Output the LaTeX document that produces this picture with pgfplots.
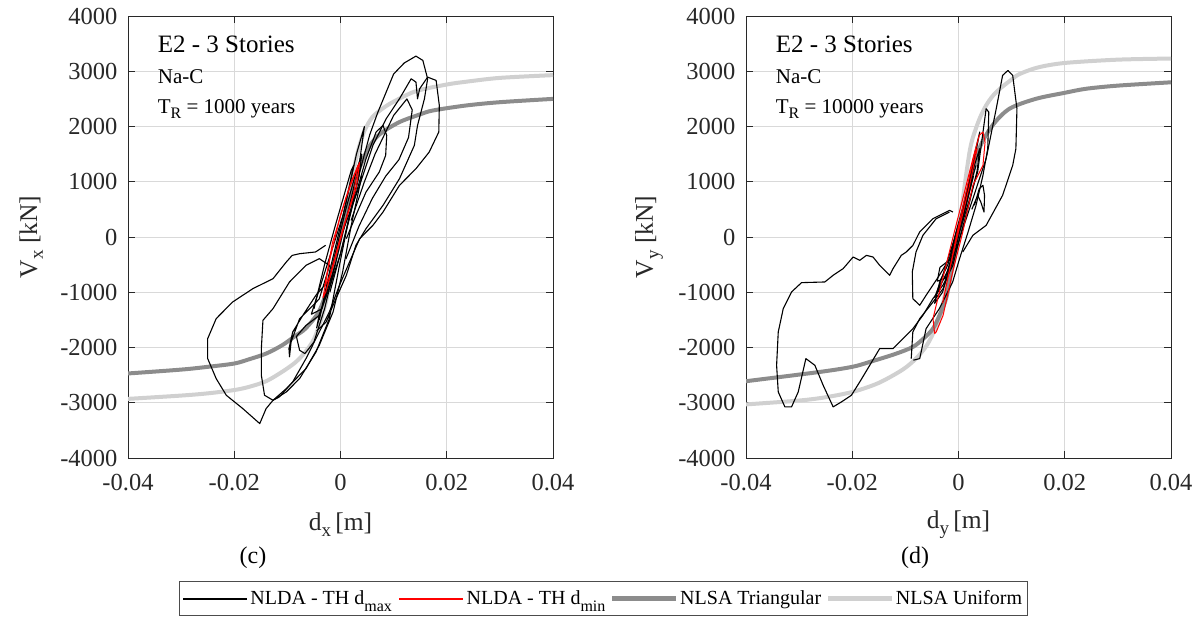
\documentclass[border=0pt]{standalone}
\usepackage{fontspec}
\setmainfont{Liberation Serif}
\usepackage{pgfplots}
\pgfplotsset{compat=1.18}
\newcommand\sub[2][16]{\raisebox{-0.5ex}{\fontsize{#1}{#1}\selectfont #2}}
\newcommand\lsub[1]{\raisebox{-0.7ex}{\fontsize{16}{16}\selectfont #1}}
\definecolor{tri}{RGB}{140,140,140}
\definecolor{uni}{RGB}{208,208,208}
\definecolor{axc}{RGB}{40,40,40}
\definecolor{lred}{RGB}{255,0,0}
\pgfplotsset{
  panel/.style={
    scale only axis, width=425pt, height=442pt,
    xmin=-0.04, xmax=0.04, ymin=-4000, ymax=4000,
    xtick={-0.04,-0.02,0,0.02,0.04},
    ytick={-4000,-3000,...,4000},
    scaled ticks=false,
    /pgf/number format/assume math mode=true,
    /pgf/number format/1000 sep={},
    xticklabel style={/pgf/number format/fixed,/pgf/number format/precision=2, yshift=-13pt},
    yticklabel style={xshift=-7pt},
    ticklabel style={font=\fontsize{24.5}{28}\selectfont, text=axc},
    tick align=inside, major tick length=7pt,
    axis line style={draw=axc, line width=1pt},
    tick style={draw=axc, line width=0.8pt},
    grid=major, grid style={draw=black!15, line width=0.8pt},
    label style={font=\fontsize{25.5}{30}\selectfont, text=axc},
    xlabel style={at={(axis description cs:0.5,-0.15)}, anchor=center},
    ylabel style={at={(axis description cs:-0.228,0.5)}, anchor=center},
    clip=true,
  },
  blk/.style={draw=black, line width=1.1pt, line join=round},
  rd/.style={draw=lred, line width=1pt, line join=round},
  trl/.style={draw=tri, line width=4pt, smooth},
  unl/.style={draw=uni, line width=4pt, smooth},
}
\begin{document}
\begin{tikzpicture}[x=1pt,y=1pt]
\path[use as bounding box] (0,0) rectangle (1198,619);
% ---------------- left panel (c)
\begin{axis}[panel, at={(128pt,161pt)}, anchor=south west,
  xlabel={d\sub[19]{x}\,[m]}, ylabel={V\sub[19]{x} [kN]},
  legend columns=4,
  legend cell align=left,
  legend style={at={(1.1185,-0.318)}, anchor=center, draw=black!70, line width=0.8pt, fill=white,
    font=\fontsize{20}{24}\selectfont, inner xsep=3pt, inner ysep=4pt,
    /tikz/every odd column/.append style={column sep=2pt},
    /tikz/every even column/.append style={column sep=5pt},
    nodes={inner ysep=5pt}},
]
\addplot[unl, forget plot] coordinates {(-0.04,-2930) (-0.03,-2870) (-0.025,-2830) (-0.02,-2770) (-0.0172,-2712) (-0.014,-2610) (-0.011,-2441) (-0.0085,-2270) (-0.0066,-2079) (-0.005,-1850) (-0.0038,-1537) (-0.0028,-1200) (-0.0019,-814) (-0.001,-420) (0,0) (0.0008,400) (0.0016,813) (0.0025,1220) (0.0034,1597) (0.0045,1920) (0.006,2170) (0.008,2330) (0.01,2450) (0.0142,2640) (0.02,2760) (0.0236,2810) (0.03,2880) (0.04,2930)};
\addplot[trl, forget plot] coordinates {(-0.04,-2470) (-0.03,-2400) (-0.025,-2350) (-0.02,-2290) (-0.0172,-2213) (-0.014,-2110) (-0.011,-1960) (-0.0085,-1790) (-0.0066,-1658) (-0.0041,-1356) (-0.0025,-950) (-0.0012,-480) (0,0) (0.0012,480) (0.0025,950) (0.004,1350) (0.0055,1650) (0.0075,1870) (0.0111,2080) (0.015,2220) (0.0174,2290) (0.0236,2380) (0.03,2440) (0.04,2500)};
\addplot[blk, forget plot] coordinates {(-0.0028,-150) (-0.0047,-271) (-0.0077,-302) (-0.0091,-333) (-0.0102,-452) (-0.0127,-754) (-0.0165,-935) (-0.0203,-1176) (-0.0234,-1477) (-0.0250,-1839) (-0.0250,-2201) (-0.0234,-2563) (-0.0215,-2864) (-0.0184,-3105) (-0.0152,-3377) (-0.0140,-3105) (-0.0127,-2955) (-0.0102,-2804) (-0.0077,-2563) (-0.0046,-2080) (-0.0021,-1477) (-0.0002,-513) (0.0017,392) (0.0036,1176) (0.0055,1850) (0.0070,2250) (0.0085,2600) (0.0100,2950) (0.0120,3150) (0.0142,3274) (0.0155,3196) (0.0164,2864) (0.0158,2502) (0.0145,2020) (0.0139,1658) (0.0111,1055) (0.0080,573) (0.0048,151) (0.0029,-151) (0.0011,-693) (-0.0014,-1236) (-0.0027,-1538) (-0.0045,-1700)};
\addplot[blk, forget plot] coordinates {(0.0004,90) (0.0036,935) (0.0061,1658) (0.0086,2141) (0.0111,2502) (0.0133,2864) (0.0142,2804) (0.0145,2502) (0.0149,2683) (0.0164,2894) (0.0180,2834) (0.0186,2382) (0.0185,1900) (0.0167,1538) (0.0142,1236) (0.0111,935) (0.0080,452) (0.0061,211) (0.0036,-30) (0.0017,-452) (-0.0002,-874) (-0.0021,-1357) (-0.0040,-1719) (-0.0065,-2201) (-0.0090,-2623) (-0.0115,-2894) (-0.0127,-2955)};
\addplot[blk, forget plot] coordinates {(-0.0021,-513) (-0.0040,-392) (-0.0065,-513) (-0.0096,-814) (-0.0127,-1296) (-0.0146,-1508) (-0.0149,-2020) (-0.0149,-2502) (-0.0143,-2864) (-0.0127,-2955) (-0.0102,-2744) (-0.0065,-2382) (-0.0040,-1960) (-0.0014,-1357) (0.0004,-633) (0.0020,200) (0.0040,1100)};
\addplot[blk, forget plot] coordinates {(0.0011,-30) (0.0029,392) (0.0048,814) (0.0073,1176) (0.0085,1477) (0.0087,1839) (0.0080,2020) (0.0067,1900) (0.0048,1417) (0.0023,573) (0.0000,-300) (-0.0020,-1000)};
\addplot[blk, forget plot] coordinates {(0.0020,300) (0.0045,1000) (0.0065,1500) (0.0080,1800) (0.0100,2200) (0.0125,2500) (0.0135,2300) (0.0128,1800) (0.0110,1400) (0.0085,1100) (0.0060,700) (0.0035,200) (0.0010,-400)};
\addplot[blk, forget plot] coordinates {(-0.0014,-700) (-0.0046,-1050) (-0.0071,-1420) (-0.0090,-1720) (-0.0097,-2020) (-0.0096,-2170) (-0.0093,-1900) (-0.0077,-1480) (-0.0052,-1240) (-0.0040,-1120) (-0.0020,-500)};
\addplot[blk, forget plot] coordinates {(-0.0040,-1420) (-0.0065,-1600) (-0.0083,-1800) (-0.0077,-2050) (-0.0067,-2110) (-0.0050,-1900) (-0.0030,-1300) (-0.0010,-500)};
\addplot[blk, forget plot] coordinates {(-0.0045,-1650) (-0.003,-1100) (-0.001,-300) (0.001,500) (0.003,1200) (0.004,1500) (0.0035,1100) (0.002,500) (0,-300) (-0.002,-900) (-0.004,-1400) (-0.0045,-1650)};
\addplot[blk, forget plot] coordinates {(-0.005,-1300) (-0.003,-500) (-0.001,200) (0.002,1200) (0.0025,1300) (0.001,600) (-0.002,-600) (-0.004,-1500)};
\addplot[blk, forget plot] coordinates {(-0.0055,-1400) (-0.0035,-800) (0.0005,400) (0.003,1500) (0.0045,2000) (0.0035,1300) (0.0015,500) (-0.001,-500) (-0.0035,-1300) (-0.0055,-1400)};
\addplot[rd, forget plot] coordinates {(-0.0033,-1100) (-0.002,-400) (0,400) (0.002,1000) (0.0036,1350) (0.003,900) (0.001,300) (-0.001,-400) (-0.0028,-1000) (-0.0033,-1100)};
\addplot[rd, forget plot] coordinates {(-0.003,-900) (-0.0015,-100) (0.001,700) (0.0033,1300) (0.0025,800) (0,0) (-0.002,-700) (-0.003,-900)};
\addlegendimage{legend image code/.code={\fill[black] (0pt,-0.55pt) rectangle (63pt,0.55pt);}}
\addlegendentry{NLDA - TH d\lsub{max}}
\addlegendimage{legend image code/.code={\fill[lred] (0pt,-0.55pt) rectangle (63pt,0.55pt);}}
\addlegendentry{NLDA - TH d\lsub{min}}
\addlegendimage{legend image code/.code={\fill[tri] (0pt,-2pt) rectangle (63pt,2pt);}}
\addlegendentry{NLSA Triangular}
\addlegendimage{legend image code/.code={\fill[uni] (0pt,-2pt) rectangle (63pt,2pt);}}
\addlegendentry{NLSA Uniform}
\node[anchor=west, font=\fontsize{25}{28}\selectfont] at (axis description cs:0.062,0.935) {E2 - 3 Stories};
\node[anchor=west, font=\fontsize{21}{24}\selectfont] at (axis description cs:0.062,0.862) {Na-C};
\node[anchor=west, font=\fontsize{21}{24}\selectfont] at (axis description cs:0.062,0.79) {T\sub{R} = 1000 years};
\end{axis}
% ---------------- right panel (d)
\begin{axis}[panel, at={(746pt,161pt)}, anchor=south west,
  xlabel={d\sub[19]{y}\,[m]}, ylabel={V\sub[19]{y} [kN]}]
\addplot[unl] coordinates {(-0.04,-3030) (-0.03,-2960) (-0.025,-2900) (-0.0198,-2800) (-0.015,-2640) (-0.0105,-2400) (-0.008,-2200) (-0.0061,-1980) (-0.0048,-1750) (-0.0036,-1477) (-0.0028,-1150) (-0.002,-814) (-0.0011,-350) (0,200) (0.0007,600) (0.0014,1100) (0.0021,1550) (0.0027,1800) (0.004,2150) (0.0052,2382) (0.0065,2560) (0.008,2700) (0.01,2850) (0.0115,2950) (0.015,3070) (0.02,3150) (0.03,3210) (0.04,3230)};
\addplot[trl] coordinates {(-0.04,-2610) (-0.0261,-2442) (-0.02,-2350) (-0.0167,-2261) (-0.012,-2120) (-0.0086,-1990) (-0.0065,-1830) (-0.0048,-1658) (-0.0035,-1400) (-0.0023,-1100) (-0.0011,-513) (0.0002,90) (0.0012,580) (0.0021,935) (0.0039,1598) (0.0064,2020) (0.0096,2322) (0.0146,2502) (0.02,2610) (0.024,2683) (0.03,2740) (0.04,2800)};
\addplot[blk] coordinates {(-0.00106,452) (-0.00169,482) (-0.00482,332) (-0.00732,90) (-0.00858,-151) (-0.00983,-271) (-0.01077,-332) (-0.01233,-573) (-0.01296,-693) (-0.01484,-513) (-0.01609,-362) (-0.01734,-332) (-0.01859,-422) (-0.01984,-362) (-0.02172,-573) (-0.0236,-693) (-0.02517,-814) (-0.02955,-826) (-0.03143,-995) (-0.03299,-1296) (-0.03393,-1719) (-0.03424,-2322) (-0.03393,-2804) (-0.03268,-3075) (-0.03143,-3075) (-0.03017,-2804) (-0.02873,-2201) (-0.02704,-2322) (-0.02548,-2683) (-0.0236,-3075) (-0.02204,-2985) (-0.02016,-2864) (-0.01859,-2623) (-0.01671,-2322) (-0.01484,-2020) (-0.01233,-2020) (-0.01045,-1839) (-0.00858,-1658) (-0.0067,-1417) (-0.00482,-1116) (-0.00294,-874) (-0.00106,-513) (0.0002,-30) (0.0027,693) (0.0052,1417) (0.0071,2322) (0.0083,2925) (0.0093,3015) (0.0102,2925) (0.0110,2322) (0.0108,1598) (0.0102,1296) (0.0083,754) (0.0052,211) (0.0027,30) (0.0008,-271)};
\addplot[blk] coordinates {(-0.0017,452) (-0.0042,332) (-0.0067,30) (-0.0080,-271) (-0.0087,-633) (-0.0086,-1116) (-0.0073,-1236) (-0.0061,-1055) (-0.0036,-693) (-0.0017,-392) (-0.0004,90) (0.0014,693) (0.0033,1296)};
\addplot[blk] coordinates {(-0.0089,-2201) (-0.0086,-1719) (-0.0073,-1477) (-0.0048,-1176) (-0.0029,-935) (-0.0011,-452) (0.0002,90) (0.0021,693) (0.0036,1176) (0.0052,2322) (0.0057,2261) (0.0055,1598) (0.0046,1116) (0.0033,573) (0.0018,90) (0.0002,-392) (-0.0011,-814) (-0.0036,-1296) (-0.0061,-1658) (-0.0073,-2201) (-0.0085,-2230)};
\addplot[blk] coordinates {(0.0030,573) (0.0039,874) (0.0046,935) (0.0049,754) (0.0048,452) (0.0042,633) (0.0036,754) (0.0025,500)};
\addplot[blk] coordinates {(-0.0045,-1100) (-0.003,-700) (-0.001,-100) (0.001,600) (0.003,1300) (0.004,1600) (0.0035,1200) (0.002,600) (0,-100) (-0.002,-600) (-0.0045,-1100)};
\addplot[blk] coordinates {(-0.0035,-800) (-0.0045,-1200) (-0.0030,-1000) (-0.001,-300) (0.0015,800) (0.0030,1500) (0.0040,1900) (0.0030,1400) (0.0005,300) (-0.002,-500) (-0.0035,-800)};
\addplot[blk] coordinates {(-0.0035,-550) (-0.0040,-800) (-0.0025,-750) (-0.0005,-100) (0.0020,900) (0.0028,1100) (0.0010,400) (-0.0015,-400) (-0.0035,-550)};
\addplot[rd] coordinates {(-0.0045,-1749) (-0.0048,-1477) (-0.0036,-995) (-0.0011,-30) (0.0008,693) (0.0027,1417) (0.0039,1839) (0.0046,1900) (0.0050,1719) (0.0046,1296) (0.0027,935) (0.0008,90) (-0.0011,-633) (-0.0029,-1417) (-0.0042,-1719) (-0.0045,-1749)};
\addplot[rd] coordinates {(-0.003,-1200) (0,200) (0.003,1500) (0.0035,1600) (0.002,900) (-0.001,-300) (-0.003,-1200)};
\node[anchor=west, font=\fontsize{25}{28}\selectfont] at (axis description cs:0.062,0.935) {E2 - 3 Stories};
\node[anchor=west, font=\fontsize{21}{24}\selectfont] at (axis description cs:0.062,0.862) {Na-C};
\node[anchor=west, font=\fontsize{21}{24}\selectfont] at (axis description cs:0.062,0.79) {T\sub{R} = 10000 years};
\end{axis}
\node[font=\fontsize{24}{28}\selectfont] at (253,61) {(c)};
\node[font=\fontsize{24}{28}\selectfont] at (915,61) {(d)};
\end{tikzpicture}
\end{document}
